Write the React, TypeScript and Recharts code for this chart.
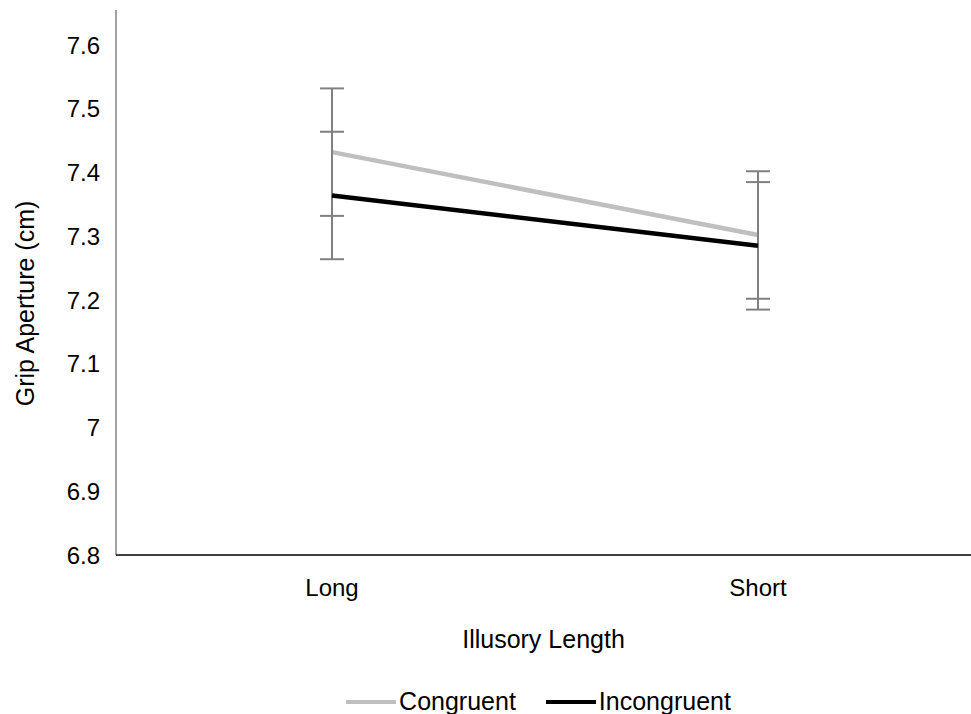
import React from "react";
import { LineChart, Line, XAxis, YAxis, ErrorBar, Legend, Label } from "recharts";

const categories = ["Long", "Short"];
const congruent = [7.432, 7.302];
const incongruent = [7.364, 7.285];
const congruentErr = [0.1, 0.1];
const incongruentErr = [0.1, 0.1];
const yTicks = [6.8, 6.9, 7, 7.1, 7.2, 7.3, 7.4, 7.5, 7.6];

const data = categories.map((c, i) => ({
  name: c,
  Congruent: congruent[i],
  Incongruent: incongruent[i],
  cErr: congruentErr[i],
  iErr: incongruentErr[i],
}));

const FONT = "'Liberation Sans', Arial, sans-serif";

const LegendContent = () => {
  const items = [
    { label: "Congruent", color: "#bfbfbf" },
    { label: "Incongruent", color: "#000000" },
  ];
  return (
    <div
      style={{
        display: "flex",
        justifyContent: "center",
        fontFamily: FONT,
        fontSize: 25,
        lineHeight: "29px",
        color: "#000",
        paddingLeft: 106,
      }}
    >
      {items.map((it, i) => (
        <div key={it.label} style={{ display: "flex", alignItems: "center", marginLeft: i === 0 ? 0 : 30 }}>
          <svg width={50} height={10} style={{ marginRight: 3 }}>
            <line x1={0} y1={5} x2={50} y2={5} stroke={it.color} strokeWidth={4} />
          </svg>
          <span>{it.label}</span>
        </div>
      ))}
    </div>
  );
};

export default function App() {
  return (
    <div style={{ position: "absolute", left: 0, top: 0, background: "#fff" }}>
      <LineChart width={971} height={714} data={data} margin={{ top: 10, right: 0, left: 0, bottom: 100 }}>
        <XAxis
          dataKey="name"
          height={30}
          padding={{ left: 216, right: 213 }}
          axisLine={{ stroke: "#000", strokeWidth: 1.5 }}
          tickLine={false}
          tickSize={0}
          tickMargin={24}
          tick={{ fill: "#000", fontSize: 24, fontFamily: FONT }}
        >
          <Label value="Illusory Length" position="bottom" offset={45} style={{ fill: "#000", fontSize: 25, fontFamily: FONT }} />
        </XAxis>
        <YAxis
          width={116}
          domain={[6.8, 7.655]}
          ticks={yTicks}
          interval={0}
          allowDataOverflow
          axisLine={{ stroke: "#444", strokeWidth: 1 }}
          tickLine={false}
          tickSize={6}
          tickMargin={10}
          tick={{ fill: "#000", fontSize: 24, fontFamily: FONT }}
        >
          <Label
            value="Grip Aperture (cm)"
            angle={-90}
            position="insideLeft"
            offset={25}
            dy={21}
            style={{ fill: "#000", fontSize: 25, fontFamily: FONT, textAnchor: "middle" }}
          />
        </YAxis>
        <Legend
          verticalAlign="bottom"
          align="center"
          wrapperStyle={{ bottom: -2, left: 0, width: 971 }}
          content={<LegendContent />}
        />
        <Line dataKey="Congruent" stroke="#bfbfbf" strokeWidth={4.5} dot={false} isAnimationActive={false}>
          <ErrorBar dataKey="cErr" direction="y" width={12} stroke="#808080" strokeWidth={2} />
        </Line>
        <Line dataKey="Incongruent" stroke="#000000" strokeWidth={4.5} dot={false} isAnimationActive={false}>
          <ErrorBar dataKey="iErr" direction="y" width={12} stroke="#808080" strokeWidth={2} />
        </Line>
      </LineChart>
    </div>
  );
}
